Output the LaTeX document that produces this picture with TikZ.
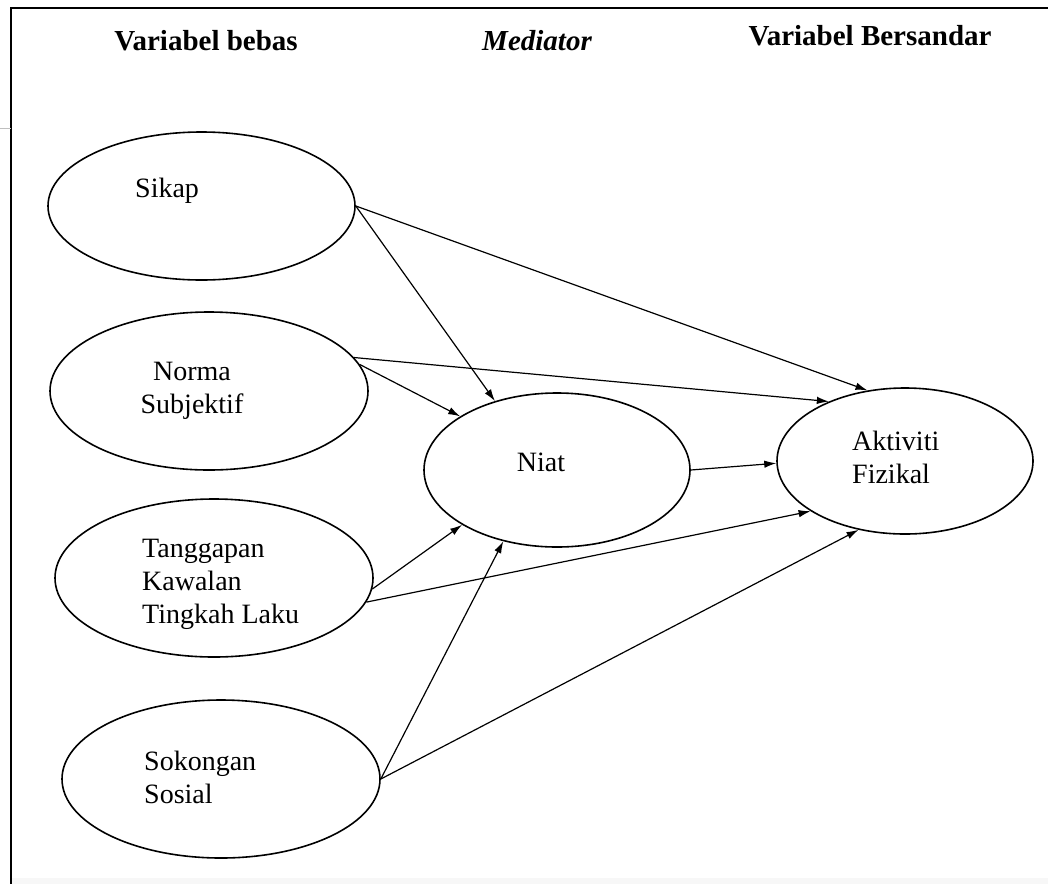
\documentclass[tikz,border=0pt]{standalone}
\usepackage{fontspec}
\setmainfont{Liberation Serif}
\usetikzlibrary{shapes.geometric,arrows.meta}

\newcommand\diagtext{\fontsize{28}{33}\selectfont}
\newcommand\diaghead{\fontsize{29}{34}\selectfont\bfseries}

\begin{document}
\begin{tikzpicture}[
    x=1pt, y=-1pt,
    var/.style={ellipse,draw,line width=1.6pt,inner sep=0pt},
    lbl/.style={font=\diagtext,inner sep=0pt,align=left,anchor=west},
    head/.style={font=\diaghead,inner sep=0pt,anchor=base},
    arr/.style={-{Latex[length=12pt,width=7.5pt]},line width=1.2pt}
]
\useasboundingbox (0,0) rectangle (1048,884);
% frame
\draw[line width=1.8pt] (1048,8) -- (11,8) -- (11,884);
\draw[gray!50] (0,128) -- (11,128);
\fill[gray!6] (12,878) rectangle (1048,884);

% column titles
\node[head] (h-bebas) at (206,50) {Variabel bebas};
\node[head] (h-med) at (537,50) {\itshape Mediator};
\node[head] (h-sandar) at (870,45) {Variabel Bersandar};

% variables
\node[var,minimum width=307pt,minimum height=148pt] (sikap) at (201.5,206) {};
\node[var,minimum width=318pt,minimum height=158pt] (norma) at (209,391) {};
\node[var,minimum width=318pt,minimum height=158pt] (tanggap) at (214,578) {};
\node[var,minimum width=318pt,minimum height=158pt] (sokong) at (221,779) {};
\node[var,minimum width=266pt,minimum height=154pt] (niat) at (557,470) {};
\node[var,minimum width=256pt,minimum height=146pt] (aktiviti) at (905,461) {};

% texts
\node[lbl] (t-sikap) at (135,190.5) {Sikap};
\node[lbl,align=center,anchor=center] (t-norma) at (192,391) {Norma\\Subjektif};
\node[lbl] (t-tanggap) at (142,584) {Tanggapan\\Kawalan\\Tingkah Laku};
\node[lbl] (t-sokong) at (144,777) {Sokongan\\Sosial};
\node[lbl,anchor=center] (t-niat) at (541,462) {Niat};
\node[lbl] (t-aktiviti) at (852,457.5) {Aktiviti\\Fizikal};

% paths
\draw[arr] (sikap.east) -- (niat.132);
\draw[arr] (sikap.east) -- (aktiviti.118);
\draw[arr] (norma.13) -- (aktiviti.142);
\draw[arr] (norma.10) -- (niat.151);
\draw[arr] (niat.east) -- (aktiviti.181);
\draw[arr] (tanggap.-4) -- (niat.210);
\draw[arr] (tanggap.-9) -- (aktiviti.208);
\draw[arr] (sokong.east) -- (niat.233);
\draw[arr] (sokong.east) -- (aktiviti.236);
\end{tikzpicture}
\end{document}
